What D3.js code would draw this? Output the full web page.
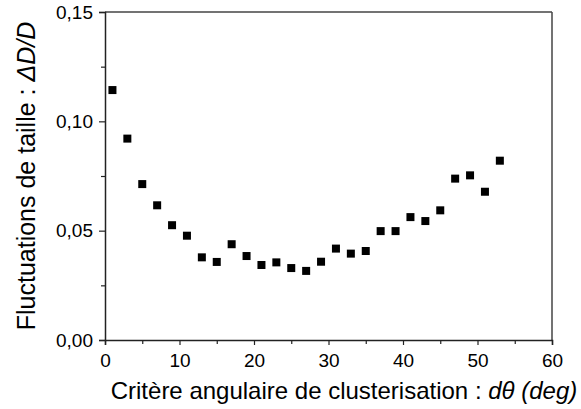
<!DOCTYPE html>
<html>
<head>
<meta charset="utf-8">
<script src="https://cdn.jsdelivr.net/npm/d3@7"></script>
<style>
  html, body { margin: 0; padding: 0; background: #fff; }
  svg { display: block; }
  text { font-family: "Liberation Sans", Arial, sans-serif; fill: #000; }
</style>
</head>
<body>
<svg id="chart" width="581" height="409"></svg>
<script>
// Data
const dTheta = [1, 3, 5, 7, 9, 11, 13, 15, 17, 19, 21, 23, 25, 27, 29, 31, 33, 35, 37, 39, 41, 43, 45, 47, 49, 51, 53];
const deltaDoverD = [0.1143, 0.0921, 0.0713, 0.0616, 0.0525, 0.0477, 0.0378, 0.0357, 0.0438, 0.0384, 0.0343, 0.0355, 0.0329, 0.0316, 0.0358, 0.0418, 0.0395, 0.0407, 0.0498, 0.0498, 0.0562, 0.0544, 0.0593, 0.0738, 0.0753, 0.0678, 0.0820];
const xTicks = [0, 10, 20, 30, 40, 50, 60];
const xTickLabels = ["0", "10", "20", "30", "40", "50", "60"];
const xMinorTicks = [5, 15, 25, 35, 45, 55];
const yTicks = [0, 0.05, 0.10, 0.15];
const yTickLabels = ["0,00", "0,05", "0,10", "0,15"];
const yMinorTicks = [0.025, 0.075, 0.125];

(function () {
const svg = d3.select("#chart");
const mLeft = 105, mRight = 552, mTop = 12, mBottom = 340;

const x = d3.scaleLinear().domain([0, 60]).range([mLeft, mRight]);
const y = d3.scaleLinear().domain([0, 0.15]).range([mBottom, mTop]);

// Frame (top and right)
svg.append("line").attr("x1", mLeft).attr("x2", mRight).attr("y1", mTop).attr("y2", mTop)
  .attr("stroke", "#444").attr("stroke-width", 1.5);
svg.append("line").attr("x1", mRight).attr("x2", mRight).attr("y1", mTop).attr("y2", mBottom)
  .attr("stroke", "#444").attr("stroke-width", 1.5);

// Bottom axis
const xAxis = d3.axisBottom(x).tickValues(xTicks).tickSize(5).tickPadding(9)
  .tickFormat((d, i) => xTickLabels[i]);
const gx = svg.append("g").attr("transform", `translate(0,${mBottom})`).call(xAxis);
gx.select(".domain").attr("stroke", "#222").attr("stroke-width", 1.5);
gx.selectAll(".tick line").attr("stroke", "#222").attr("stroke-width", 1.2);
gx.selectAll(".tick text").attr("font-size", 19).attr("font-family", "Liberation Sans, Arial, sans-serif").attr("fill", "#000");
const gxm = svg.append("g").attr("transform", `translate(0,${mBottom})`)
  .call(d3.axisBottom(x).tickValues(xMinorTicks).tickSize(4).tickFormat(""));
gxm.select(".domain").remove();
gxm.selectAll(".tick line").attr("stroke", "#222").attr("stroke-width", 1.2);

// Left axis
const yAxis = d3.axisLeft(y).tickValues(yTicks).tickSize(6).tickPadding(6)
  .tickFormat((d, i) => yTickLabels[i]);
const gy = svg.append("g").attr("transform", `translate(${mLeft},0)`).call(yAxis);
gy.select(".domain").attr("stroke", "#222").attr("stroke-width", 1.5);
gy.selectAll(".tick line").attr("stroke", "#222").attr("stroke-width", 1.2);
gy.selectAll(".tick text").attr("font-size", 19).attr("font-family", "Liberation Sans, Arial, sans-serif").attr("fill", "#000");
const gym = svg.append("g").attr("transform", `translate(${mLeft},0)`)
  .call(d3.axisLeft(y).tickValues(yMinorTicks).tickSize(4).tickFormat(""));
gym.select(".domain").remove();
gym.selectAll(".tick line").attr("stroke", "#222").attr("stroke-width", 1.2);

// Points
const s = 8;
svg.append("g").selectAll("rect").data(dTheta).join("rect")
  .attr("x", (d) => x(d) - s / 2)
  .attr("y", (d, i) => y(deltaDoverD[i]) - s / 2)
  .attr("width", s).attr("height", s)
  .attr("fill", "#000");

// X title
const xt = svg.append("text").attr("x", 344).attr("y", 399).attr("text-anchor", "middle").attr("font-size", 24);
xt.append("tspan").text("Critère angulaire de clusterisation : ");
xt.append("tspan").attr("font-style", "italic").text("dθ (deg)");

// Y title
const yt = svg.append("text").attr("transform", "translate(35,176) rotate(-90)").attr("text-anchor", "middle").attr("font-size", 25);
yt.append("tspan").text("Fluctuations de taille : ");
yt.append("tspan").attr("font-style", "italic").text("ΔD/D");
})();
</script>
</body>
</html>
